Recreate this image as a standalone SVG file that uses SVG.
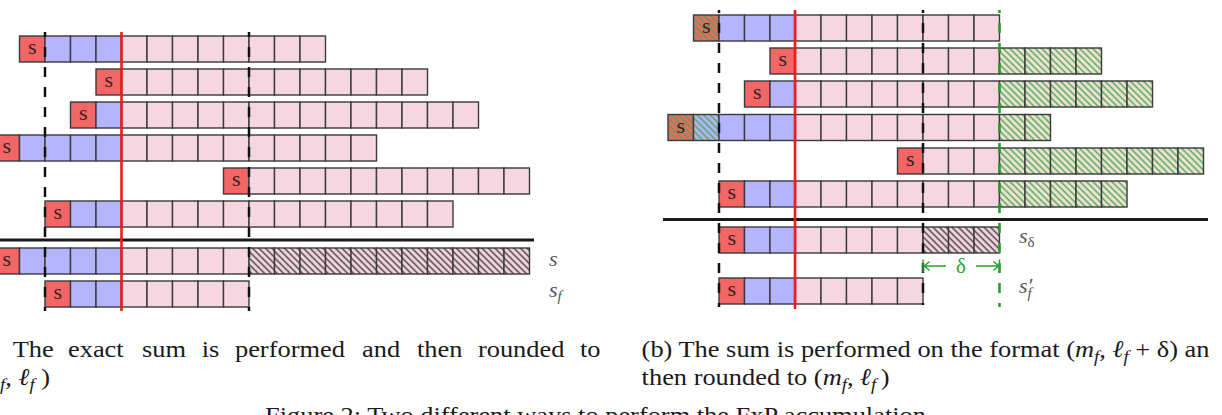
<svg xmlns="http://www.w3.org/2000/svg" xmlns:xlink="http://www.w3.org/1999/xlink" width="1222" height="415" viewBox="0 0 1222 415">
<style>
.c{stroke:#3a3a3a;stroke-width:1.4}
.sg{fill:#f26666}
.bl{fill:#b4b4ff}
.pk{fill:#f6d7e1}
.lbl{font-family:"Liberation Serif",serif;font-size:22px;fill:#3a2222;text-anchor:middle}
.cap{font-family:"Liberation Serif","DejaVu Serif",serif;font-size:24px;fill:#1a1a1a}
.it{font-style:italic}
.sub{font-size:17px;font-style:italic}
.ml{font-family:"Liberation Serif","DejaVu Serif",serif;font-style:italic;font-size:22px;fill:#555}
.dash{stroke:#111;stroke-width:2.5;stroke-dasharray:10 10;fill:none}
.gdash{stroke:#1f9e1f;stroke-width:2.5;stroke-dasharray:10 10;fill:none}
.red{stroke:#f21a1a;stroke-width:2.6;fill:none}
.sep{stroke:#1a1a1a;stroke-width:2.8;fill:none}
</style>
<defs>
<pattern id="hg" patternUnits="userSpaceOnUse" width="6" height="4.6" patternTransform="rotate(45)"><line x1="0" y1="2.3" x2="6" y2="2.3" stroke="#4ea84e" stroke-width="1.5"/></pattern>
<pattern id="hd" patternUnits="userSpaceOnUse" width="6" height="4.6" patternTransform="rotate(45)"><line x1="0" y1="2.3" x2="6" y2="2.3" stroke="#4d3f48" stroke-width="1.5"/></pattern>
<rect id="pc" class="c pk" width="25.5" height="26"/>
<rect id="bc" class="c bl" width="25.5" height="26"/>
<rect id="sc" class="c sg" width="25.5" height="26"/>
<g id="gc"><rect width="25.5" height="26" fill="#f1e3d9"/><rect class="c" width="25.5" height="26" fill="url(#hg)"/></g>
<g id="dc"><rect width="25.5" height="26" fill="#f3d9e1"/><rect class="c" width="25.5" height="26" fill="url(#hd)"/></g>
<g id="hsc"><rect width="25.5" height="26" class="sg"/><rect class="c" width="25.5" height="26" fill="url(#hg)"/></g>
<g id="hbc"><rect width="25.5" height="26" class="bl"/><rect class="c" width="25.5" height="26" fill="url(#hg)"/></g>
</defs>

<!-- Left panel rows -->
<g id="L1" transform="translate(45,36)">
<use href="#sc" x="-25.5"/><use href="#bc" x="0"/><use href="#bc" x="25.5"/><use href="#bc" x="51"/>
<use href="#pc" x="76.5"/><use href="#pc" x="102"/><use href="#pc" x="127.5"/><use href="#pc" x="153"/><use href="#pc" x="178.5"/><use href="#pc" x="204"/><use href="#pc" x="229.5"/><use href="#pc" x="255"/>
<text class="lbl" x="-12.75" y="18">s</text>
</g>
<g id="L2" transform="translate(45,69)">
<use href="#sc" x="51"/>
<use href="#pc" x="76.5"/><use href="#pc" x="102"/><use href="#pc" x="127.5"/><use href="#pc" x="153"/><use href="#pc" x="178.5"/><use href="#pc" x="204"/><use href="#pc" x="229.5"/><use href="#pc" x="255"/><use href="#pc" x="280.5"/><use href="#pc" x="306"/><use href="#pc" x="331.5"/><use href="#pc" x="357"/>
<text class="lbl" x="63.75" y="18">s</text>
</g>
<g id="L3" transform="translate(45,102)">
<use href="#sc" x="25.5"/><use href="#bc" x="51"/>
<use href="#pc" x="76.5"/><use href="#pc" x="102"/><use href="#pc" x="127.5"/><use href="#pc" x="153"/><use href="#pc" x="178.5"/><use href="#pc" x="204"/><use href="#pc" x="229.5"/><use href="#pc" x="255"/><use href="#pc" x="280.5"/><use href="#pc" x="306"/><use href="#pc" x="331.5"/><use href="#pc" x="357"/><use href="#pc" x="382.5"/><use href="#pc" x="408"/>
<text class="lbl" x="38.25" y="18">s</text>
</g>
<g id="L4" transform="translate(45,135)">
<use href="#sc" x="-51"/><use href="#bc" x="-25.5"/><use href="#bc" x="0"/><use href="#bc" x="25.5"/><use href="#bc" x="51"/>
<use href="#pc" x="76.5"/><use href="#pc" x="102"/><use href="#pc" x="127.5"/><use href="#pc" x="153"/><use href="#pc" x="178.5"/><use href="#pc" x="204"/><use href="#pc" x="229.5"/><use href="#pc" x="255"/><use href="#pc" x="280.5"/><use href="#pc" x="306"/>
<text class="lbl" x="-38.25" y="18">s</text>
</g>
<g id="L5" transform="translate(45,168)">
<use href="#sc" x="178.5"/>
<use href="#pc" x="204"/><use href="#pc" x="229.5"/><use href="#pc" x="255"/><use href="#pc" x="280.5"/><use href="#pc" x="306"/><use href="#pc" x="331.5"/><use href="#pc" x="357"/><use href="#pc" x="382.5"/><use href="#pc" x="408"/><use href="#pc" x="433.5"/><use href="#pc" x="459"/>
<text class="lbl" x="191.25" y="18">s</text>
</g>
<g id="L6" transform="translate(45,201)">
<use href="#sc" x="0"/><use href="#bc" x="25.5"/><use href="#bc" x="51"/>
<use href="#pc" x="76.5"/><use href="#pc" x="102"/><use href="#pc" x="127.5"/><use href="#pc" x="153"/><use href="#pc" x="178.5"/><use href="#pc" x="204"/><use href="#pc" x="229.5"/><use href="#pc" x="255"/><use href="#pc" x="280.5"/><use href="#pc" x="306"/><use href="#pc" x="331.5"/><use href="#pc" x="357"/><use href="#pc" x="382.5"/>
<text class="lbl" x="12.75" y="18">s</text>
</g>
<g id="L7" transform="translate(45,248)">
<use href="#sc" x="-51"/><use href="#bc" x="-25.5"/><use href="#bc" x="0"/><use href="#bc" x="25.5"/><use href="#bc" x="51"/>
<use href="#pc" x="76.5"/><use href="#pc" x="102"/><use href="#pc" x="127.5"/><use href="#pc" x="153"/><use href="#pc" x="178.5"/>
<use href="#dc" x="204"/><use href="#dc" x="229.5"/><use href="#dc" x="255"/><use href="#dc" x="280.5"/><use href="#dc" x="306"/><use href="#dc" x="331.5"/><use href="#dc" x="357"/><use href="#dc" x="382.5"/><use href="#dc" x="408"/><use href="#dc" x="433.5"/><use href="#dc" x="459"/>
<text class="lbl" x="-38.25" y="18">s</text>
</g>
<g id="L8" transform="translate(45,281)">
<use href="#sc" x="0"/><use href="#bc" x="25.5"/><use href="#bc" x="51"/>
<use href="#pc" x="76.5"/><use href="#pc" x="102"/><use href="#pc" x="127.5"/><use href="#pc" x="153"/><use href="#pc" x="178.5"/>
<text class="lbl" x="12.75" y="18">s</text>
</g>

<!-- Right panel rows -->
<g id="R1" transform="translate(719,15)">
<use href="#hsc" x="-25.5"/><use href="#bc" x="0"/><use href="#bc" x="25.5"/><use href="#bc" x="51"/>
<use href="#pc" x="76.5"/><use href="#pc" x="102"/><use href="#pc" x="127.5"/><use href="#pc" x="153"/><use href="#pc" x="178.5"/><use href="#pc" x="204"/><use href="#pc" x="229.5"/><use href="#pc" x="255"/>
<text class="lbl" x="-12.75" y="18">s</text>
</g>
<g id="R2" transform="translate(719,48)">
<use href="#sc" x="51"/>
<use href="#pc" x="76.5"/><use href="#pc" x="102"/><use href="#pc" x="127.5"/><use href="#pc" x="153"/><use href="#pc" x="178.5"/><use href="#pc" x="204"/><use href="#pc" x="229.5"/><use href="#pc" x="255"/>
<use href="#gc" x="280.5"/><use href="#gc" x="306"/><use href="#gc" x="331.5"/><use href="#gc" x="357"/>
<text class="lbl" x="63.75" y="18">s</text>
</g>
<g id="R3" transform="translate(719,81)">
<use href="#sc" x="25.5"/><use href="#bc" x="51"/>
<use href="#pc" x="76.5"/><use href="#pc" x="102"/><use href="#pc" x="127.5"/><use href="#pc" x="153"/><use href="#pc" x="178.5"/><use href="#pc" x="204"/><use href="#pc" x="229.5"/><use href="#pc" x="255"/>
<use href="#gc" x="280.5"/><use href="#gc" x="306"/><use href="#gc" x="331.5"/><use href="#gc" x="357"/><use href="#gc" x="382.5"/><use href="#gc" x="408"/>
<text class="lbl" x="38.25" y="18">s</text>
</g>
<g id="R4" transform="translate(719,114.5)">
<use href="#hsc" x="-51"/><use href="#hbc" x="-25.5"/><use href="#bc" x="0"/><use href="#bc" x="25.5"/><use href="#bc" x="51"/>
<use href="#pc" x="76.5"/><use href="#pc" x="102"/><use href="#pc" x="127.5"/><use href="#pc" x="153"/><use href="#pc" x="178.5"/><use href="#pc" x="204"/><use href="#pc" x="229.5"/><use href="#pc" x="255"/>
<use href="#gc" x="280.5"/><use href="#gc" x="306"/>
<text class="lbl" x="-38.25" y="18">s</text>
</g>
<g id="R5" transform="translate(719,148)">
<use href="#sc" x="178.5"/>
<use href="#pc" x="204"/><use href="#pc" x="229.5"/><use href="#pc" x="255"/>
<use href="#gc" x="280.5"/><use href="#gc" x="306"/><use href="#gc" x="331.5"/><use href="#gc" x="357"/><use href="#gc" x="382.5"/><use href="#gc" x="408"/><use href="#gc" x="433.5"/><use href="#gc" x="459"/>
<text class="lbl" x="191.25" y="18">s</text>
</g>
<g id="R6" transform="translate(719,181)">
<use href="#sc" x="0"/><use href="#bc" x="25.5"/><use href="#bc" x="51"/>
<use href="#pc" x="76.5"/><use href="#pc" x="102"/><use href="#pc" x="127.5"/><use href="#pc" x="153"/><use href="#pc" x="178.5"/><use href="#pc" x="204"/><use href="#pc" x="229.5"/><use href="#pc" x="255"/>
<use href="#gc" x="280.5"/><use href="#gc" x="306"/><use href="#gc" x="331.5"/><use href="#gc" x="357"/><use href="#gc" x="382.5"/>
<text class="lbl" x="12.75" y="18">s</text>
</g>
<g id="R7" transform="translate(719,227)">
<use href="#sc" x="0"/><use href="#bc" x="25.5"/><use href="#bc" x="51"/>
<use href="#pc" x="76.5"/><use href="#pc" x="102"/><use href="#pc" x="127.5"/><use href="#pc" x="153"/><use href="#pc" x="178.5"/>
<use href="#dc" x="204"/><use href="#dc" x="229.5"/><use href="#dc" x="255"/>
<text class="lbl" x="12.75" y="18">s</text>
</g>
<g id="R8" transform="translate(719,278)">
<use href="#sc" x="0"/><use href="#bc" x="25.5"/><use href="#bc" x="51"/>
<use href="#pc" x="76.5"/><use href="#pc" x="102"/><use href="#pc" x="127.5"/><use href="#pc" x="153"/><use href="#pc" x="178.5"/>
<text class="lbl" x="12.75" y="18">s</text>
</g>

<!-- Connectors / guide lines -->
<g id="connectors">
<path class="sep" d="M0 240H534"/>
<path class="sep" d="M663 219.5H1208"/>
<path class="dash" d="M45 32V311" stroke-dashoffset="5"/>
<path class="dash" d="M249 32V311" stroke-dashoffset="5"/>
<path class="red" d="M121.5 32V311"/>
<path class="dash" d="M719 10V307" stroke-dashoffset="7"/>
<path class="dash" d="M923 10V305" stroke-dashoffset="7"/>
<path class="gdash" d="M999.5 10V307" stroke-dashoffset="7"/>
<path class="red" d="M795 10V309"/>
<g id="delta" stroke="#2ea02e" stroke-width="1.5" fill="none">
<path d="M923 259.5v13M999.5 259.5v13"/>
<path d="M924 266h22M976 266h22.5"/>
<path d="M929.5 261.5L924.5 266L929.5 270.5M993.5 261.5L998.5 266L993.5 270.5"/>
</g>
<text x="961" y="273" font-family="Liberation Serif, serif" font-size="21" fill="#2ea02e" text-anchor="middle">δ</text>
</g>

<!-- Row labels -->
<g id="labels">
<text class="ml" x="549" y="266">s</text>
<text class="ml" x="549" y="297">s<tspan font-size="15" dy="4">f</tspan></text>
<text class="ml" x="1019" y="243">s<tspan font-size="15" dy="4" font-style="normal">δ</tspan></text>
<text class="ml" x="1019" y="293">s′<tspan font-size="15" dx="-5" dy="5">f</tspan></text>
</g>

<!-- Captions -->
<g id="captions">
<text class="cap" transform="matrix(1.1 0 0 1 0 357)"><tspan x="11.5">The</tspan><tspan x="61.8">exact</tspan><tspan x="129.1">sum</tspan><tspan x="183.4">is</tspan><tspan x="213.6">performed</tspan><tspan x="329.1">and</tspan><tspan x="379.1">then</tspan><tspan x="434.5">rounded</tspan><tspan x="527.3">to</tspan></text>
<text class="cap" transform="matrix(1.1 0 0 1 0 385)"><tspan class="sub" dy="5">f</tspan><tspan dy="-5">, </tspan><tspan class="it">ℓ</tspan><tspan class="sub" dy="5">f</tspan><tspan dy="-5" dx="6">)</tspan></text>
<text class="cap" transform="matrix(1.1 0 0 1 641.6 357)">(b) The sum is performed on the format (<tspan class="it">m</tspan><tspan class="sub" dy="5">f</tspan><tspan dy="-5">, </tspan><tspan class="it">ℓ</tspan><tspan class="sub" dy="5">f</tspan><tspan dy="-5"> + δ) an</tspan></text>
<text class="cap" transform="matrix(1.1 0 0 1 641.6 385)">then rounded to (<tspan class="it">m</tspan><tspan class="sub" dy="5">f</tspan><tspan dy="-5">, </tspan><tspan class="it">ℓ</tspan><tspan class="sub" dy="5">f</tspan><tspan dy="-5" dx="4">)</tspan></text>
<text class="cap" transform="matrix(1.1 0 0 1 265 423)">Figure 2: Two different ways to perform the FxP accumulation.</text>
</g>
</svg>
